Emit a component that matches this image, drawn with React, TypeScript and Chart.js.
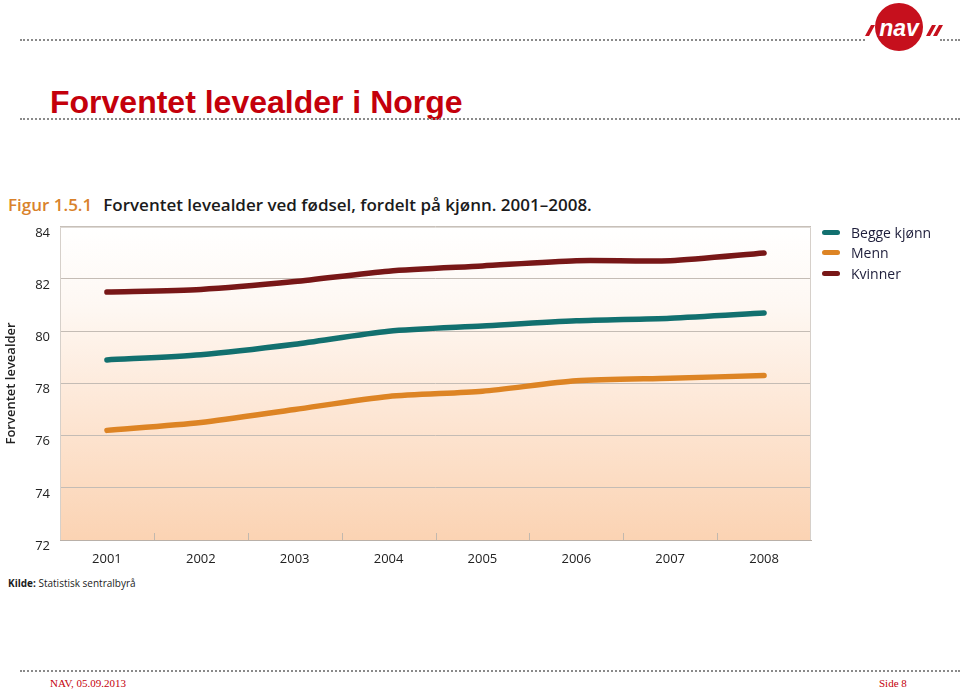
import React, { useEffect, useRef } from "react";
import { Chart, registerables } from "chart.js";

Chart.register(...registerables);

const years = ["2001", "2002", "2003", "2004", "2005", "2006", "2007", "2008"];
const beggeKjonn = [78.9, 79.1, 79.5, 80.0, 80.2, 80.4, 80.5, 80.7];
const menn = [76.2, 76.5, 77.0, 77.5, 77.7, 78.1, 78.2, 78.3];
const kvinner = [81.5, 81.6, 81.9, 82.3, 82.5, 82.7, 82.7, 83.0];
const yMin = 72;
const yMax = 84;
const yStep = 2;

const seriesNames = ["Begge kjønn", "Menn", "Kvinner"];
const seriesColors = ["#12706f", "#dd8424", "#781717"];
const seriesData = [beggeKjonn, menn, kvinner];

const FONT = "'Open Sans', 'Noto Sans', sans-serif";

const decorPlugin = {
  id: "decor",
  beforeDraw(chart: any) {
    const { ctx, chartArea } = chart;
    if (!chartArea) return;
    const { left, right, top, bottom } = chartArea;
    const g = ctx.createLinearGradient(0, top, 0, bottom);
    g.addColorStop(0, "#ffffff");
    g.addColorStop(0.25, "#fef8f3");
    g.addColorStop(0.6, "#fde6d4");
    g.addColorStop(1, "#fbd3b3");
    ctx.save();
    ctx.fillStyle = g;
    ctx.fillRect(left, top, right - left, bottom - top);
    ctx.restore();
  },
  beforeDatasetsDraw(chart: any) {
    const { ctx, chartArea, scales } = chart;
    const { left, right, top, bottom } = chartArea;
    const xs = scales.x;
    ctx.save();
    ctx.strokeStyle = "#d6d0ca";
    ctx.lineWidth = 1;
    ctx.beginPath();
    ctx.moveTo(left + 0.5, bottom);
    ctx.lineTo(left + 0.5, top + 0.5);
    ctx.lineTo(right - 0.5, top + 0.5);
    ctx.lineTo(right - 0.5, bottom);
    ctx.stroke();
    ctx.strokeStyle = "#c2b8ae";
    ctx.beginPath();
    for (let i = 1; i < years.length; i++) {
      const x = Math.round((xs.getPixelForValue(i - 1) + xs.getPixelForValue(i)) / 2) + 0.5;
      ctx.moveTo(x, bottom);
      ctx.lineTo(x, bottom - 7);
    }
    ctx.stroke();
    ctx.restore();
  },
};

function ChartBox() {
  const ref = useRef<HTMLCanvasElement | null>(null);
  useEffect(() => {
    if (!ref.current) return;
    const chart = new Chart(ref.current, {
      type: "line",
      data: {
        labels: years,
        datasets: seriesNames.map((name, i) => ({
          label: name,
          data: seriesData[i],
          borderColor: seriesColors[i],
          backgroundColor: seriesColors[i],
          borderWidth: 5.5,
          borderCapStyle: "round",
          borderJoinStyle: "round",
          tension: 0.25,
          pointRadius: 0,
          fill: false,
        })),
      },
      options: {
        animation: false,
        responsive: false,
        maintainAspectRatio: false,
        layout: { padding: { top: 0, right: 149, left: 0, bottom: 0 } },
        plugins: {
          legend: { display: false },
          tooltip: { enabled: false },
          title: { display: false },
        },
        scales: {
          x: {
            type: "category",
            offset: true,
            grid: { display: false },
            border: { display: true, color: "#b9b0a8", width: 1 },
            ticks: {
              color: "#222222",
              font: { family: FONT, size: 13 },
              padding: 3,
              maxRotation: 0,
            },
            afterFit: (s: any) => {
              s.height = 25;
            },
          },
          y: {
            min: yMin,
            max: yMax,
            ticks: {
              stepSize: yStep,
              color: "#222222",
              font: { family: FONT, size: 13 },
              padding: 10,
              labelOffset: 6,
            },
            grid: { color: "#c4bcb5", drawTicks: false, lineWidth: 1 },
            border: { display: false },
            title: {
              display: true,
              text: "Forventet levealder",
              color: "#222222",
              font: { family: FONT, size: 13, weight: "600" },
              padding: { top: 3, bottom: 0 },
            },
            afterFit: (s: any) => {
              s.width = 60;
            },
          },
        },
      },
      plugins: [decorPlugin],
    } as any);
    return () => chart.destroy();
  }, []);
  return (
    <canvas
      ref={ref}
      width={960}
      height={356}
      style={{ position: "absolute", left: 0, top: 209, width: 960, height: 356 }}
    />
  );
}

const dotted = (top: number, left: number, width: number): React.CSSProperties => ({
  position: "absolute",
  top,
  left,
  width,
  height: 0,
  borderTop: "2px dotted #8a8a8a",
});

export default function App() {
  return (
    <div
      style={{
        position: "absolute",
        left: 0,
        top: 0,
        width: 960,
        height: 691,
        background: "#ffffff",
        overflow: "hidden",
        fontFamily: FONT,
      }}
    >
      <div style={dotted(39, 20, 845)} />
      <div style={dotted(39, 940, 20)} />
      <svg
        width={110}
        height={60}
        style={{ position: "absolute", left: 850, top: 0 }}
      >
        <circle cx={49} cy={27} r={24} fill="#c6101d" />
        <text
          x={49}
          y={36}
          textAnchor="middle"
          fill="#ffffff"
          fontFamily="'Liberation Sans', Arial, sans-serif"
          fontWeight="bold"
          fontStyle="italic"
          fontSize={23}
        >
          nav
        </text>
        <polygon points="15,36 19,36 25,25 21,25" fill="#c6101d" />
        <polygon points="76,36 80,36 86,25 82,25" fill="#c6101d" />
        <polygon points="83,36 87,36 93,25 89,25" fill="#c6101d" />
      </svg>

      <div
        style={{
          position: "absolute",
          left: 50,
          top: 83,
          fontFamily: "'Liberation Sans', Arial, sans-serif",
          fontWeight: "bold",
          fontSize: 32,
          color: "#c4000b",
          whiteSpace: "nowrap",
          lineHeight: "38px",
        }}
      >
        Forventet levealder i Norge
      </div>
      <div style={dotted(118, 20, 940)} />

      <div
        style={{
          position: "absolute",
          left: 8,
          top: 193,
          fontSize: 17,
          fontWeight: 600,
          color: "#1b1b1b",
          whiteSpace: "nowrap",
          lineHeight: "24px",
        }}
      >
        <span style={{ color: "#d9822b" }}>Figur 1.5.1</span>
        <span style={{ marginLeft: 11 }}>
          Forventet levealder ved fødsel, fordelt på kjønn. 2001–2008.
        </span>
      </div>

      <ChartBox />

      <div style={{ position: "absolute", left: 822, top: 222 }}>
        {seriesNames.map((name, i) => (
          <div
            key={name}
            style={{ display: "flex", alignItems: "center", height: 20.5 }}
          >
            <div
              style={{
                width: 18,
                height: 5,
                borderRadius: 3,
                background: seriesColors[i],
                marginRight: 11,
              }}
            />
            <span
              style={{ fontSize: 14, color: "#1d1d3a", whiteSpace: "nowrap" }}
            >
              {name}
            </span>
          </div>
        ))}
      </div>

      <div
        style={{
          position: "absolute",
          left: 8,
          top: 575,
          fontSize: 10,
          color: "#1b1b1b",
          whiteSpace: "nowrap",
          lineHeight: "16px",
        }}
      >
        <b>Kilde:</b> Statistisk sentralbyrå
      </div>

      <div style={dotted(670, 20, 940)} />
      <div
        style={{
          position: "absolute",
          left: 50,
          top: 676,
          fontFamily: "'Liberation Serif', 'Times New Roman', serif",
          fontSize: 11,
          color: "#c4000b",
          whiteSpace: "nowrap",
          lineHeight: "14px",
        }}
      >
        NAV, 05.09.2013
      </div>
      <div
        style={{
          position: "absolute",
          left: 879,
          top: 676,
          fontFamily: "'Liberation Serif', 'Times New Roman', serif",
          fontSize: 11,
          color: "#c4000b",
          whiteSpace: "nowrap",
          lineHeight: "14px",
        }}
      >
        Side 8
      </div>
    </div>
  );
}
